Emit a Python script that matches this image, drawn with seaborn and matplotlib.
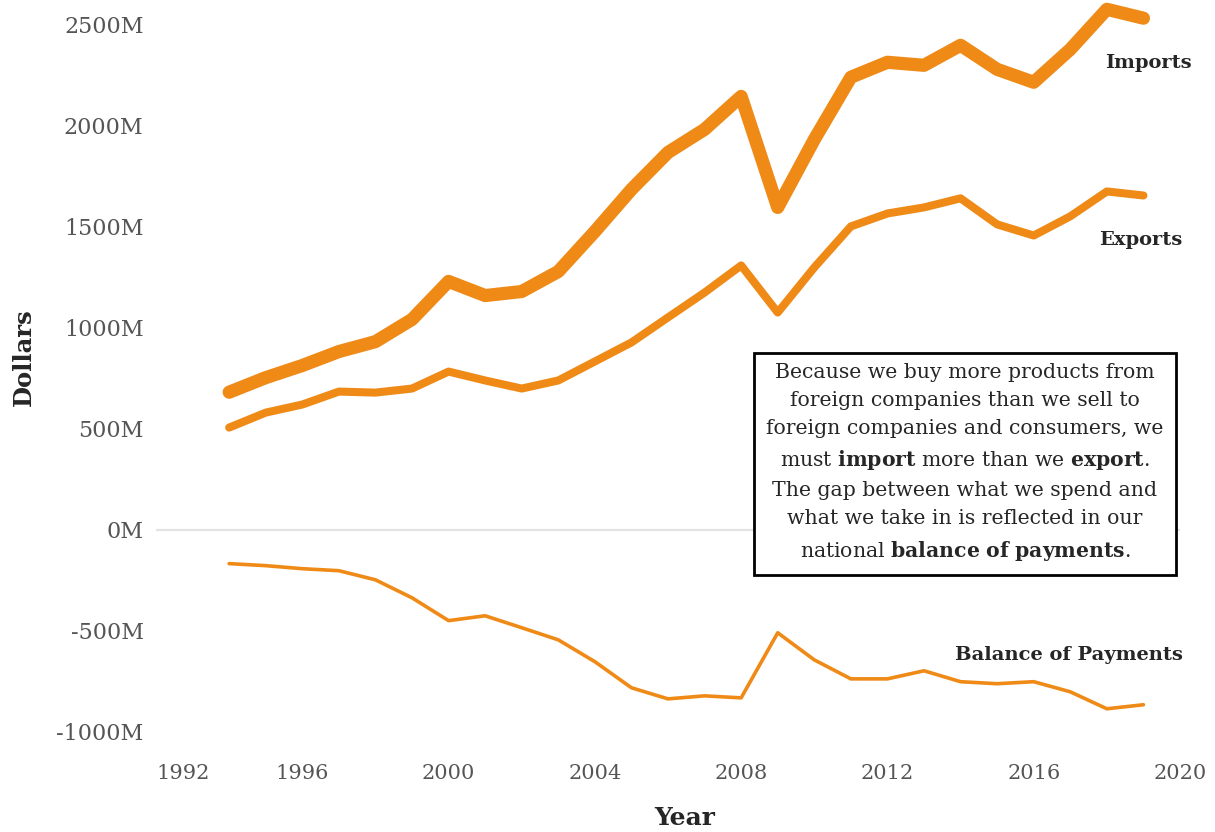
import pandas as pd
import numpy as np
import seaborn as sns
import matplotlib.pyplot as plt

years = list(range(1994, 2020))
imports = [680, 752, 812, 881, 930, 1040, 1228, 1158, 1178, 1277, 1475, 1683, 1866, 1980, 2143,
           1594, 1930, 2238, 2312, 2297, 2396, 2277, 2213, 2376, 2574, 2530]
exports = [505, 579, 619, 683, 678, 698, 782, 738, 698, 738, 832, 926, 1050, 1173, 1307,
           1074, 1297, 1500, 1564, 1594, 1639, 1510, 1455, 1550, 1673, 1653]
balance = [-168, -178, -193, -203, -248, -337, -450, -426, -485, -545, -653, -782, -837, -822, -832,
           -510, -644, -738, -738, -698, -752, -762, -752, -802, -886, -866]

x_ticks = [1992, 1996, 2000, 2004, 2008, 2012, 2016, 2020]
y_ticks = [-1000, -500, 0, 500, 1000, 1500, 2000, 2500]

sns.set_style('white')
plt.rcParams['font.family'] = ['DejaVu Serif']
plt.rcParams['mathtext.fontset'] = 'custom'
plt.rcParams['mathtext.rm'] = 'DejaVu Serif'
plt.rcParams['mathtext.bf'] = 'DejaVu Serif:bold'

orange = '#ef8a17'

df = pd.DataFrame({'Year': years, 'Imports': imports, 'Exports': exports, 'Balance': balance})

fig = plt.figure(figsize=(12.15, 8.32), dpi=100)
ax = fig.add_axes([0.1284, 0.1046, 0.8428, 0.8954])

ax.axhline(0, color='#e3e3e3', lw=1.6, zorder=0)
sns.lineplot(data=df, x='Year', y='Imports', ax=ax, color=orange, lw=9.5, solid_capstyle='round', solid_joinstyle='round')
sns.lineplot(data=df, x='Year', y='Exports', ax=ax, color=orange, lw=5.8, solid_capstyle='round', solid_joinstyle='round')
sns.lineplot(data=df, x='Year', y='Balance', ax=ax, color=orange, lw=2.6, solid_capstyle='round', solid_joinstyle='round')

ax.set_xlim(1992, 2020)
ax.set_ylim(-1065, 2620)
ax.set_xticks(x_ticks)
ax.set_xticklabels([str(v) for v in x_ticks])
ax.get_xticklabels()[0].set_ha('left')
ax.set_yticks(y_ticks)
ax.set_yticklabels([f'{v}M' for v in y_ticks])
ax.tick_params(axis='x', labelsize=15, labelcolor='#555555', length=3, width=1, color='#666666', pad=11)
ax.tick_params(axis='y', labelsize=16, labelcolor='#555555', length=0, pad=9)
sns.despine(ax=ax, left=True, bottom=True)

ax.set_xlabel('Year', fontsize=18, fontweight='bold')
ax.xaxis.set_label_coords(0.516, -0.082)
ax.set_ylabel('Dollars', fontsize=17.5, fontweight='bold')
ax.yaxis.set_label_coords(-0.117, 0.521)

ax.text(2017.95, 2310, 'Imports', fontsize=14, fontweight='bold', va='center', ha='left')
ax.text(2017.8, 1435, 'Exports', fontsize=14, fontweight='bold', va='center', ha='left')
ax.text(2013.85, -619, 'Balance of Payments', fontsize=14, fontweight='bold', va='center', ha='left')

note = ('Because we buy more products from\n'
        'foreign companies than we sell to\n'
        'foreign companies and consumers, we\n'
        r'must $\mathbf{import}$ more than we $\mathbf{export}$.' '\n'
        'The gap between what we spend and\n'
        'what we take in is reflected in our\n'
        r'national $\mathbf{balance\ of\ payments}$.')
ax.text(2014.12, 330, note, fontsize=14.7, ha='center', va='center', linespacing=1.59,
        bbox=dict(boxstyle='square,pad=0.6', fc='white', ec='black', lw=2), zorder=5)

plt.savefig('out.png', dpi=100)
